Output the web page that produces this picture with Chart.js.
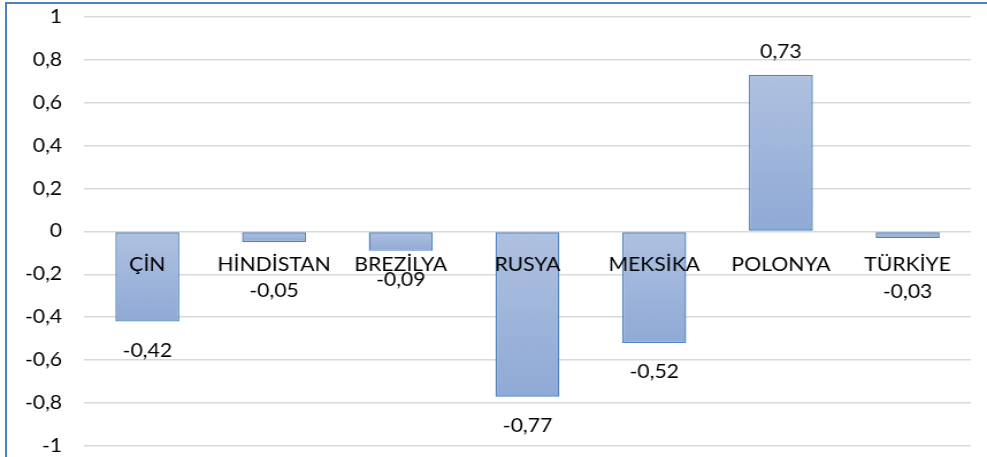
<!DOCTYPE html>
<html>
<head>
<meta charset="utf-8">
<script src="https://cdn.jsdelivr.net/npm/chart.js@4"></script>
<style>
  html, body { margin: 0; padding: 0; background: #fff; }
  #wrap { position: relative; width: 987px; height: 457px; overflow: hidden; }
  #stretch {
    position: absolute; left: 0; top: 0; width: 858px; height: 457px;
    transform: scaleX(1.1503); transform-origin: 0 0;
  }
  #frame {
    position: absolute; left: 5px; top: 2px; right: -10px; bottom: -10px;
    border-top: 2px solid #4f81bd; border-left: 2px solid #4f81bd;
    pointer-events: none;
  }
</style>
</head>
<body>
<div id="wrap">
  <div id="stretch">
    <canvas id="chart" width="858" height="457" style="width:858px;height:457px"></canvas>
  </div>
  <div id="frame"></div>
</div>
<script>
// ── Data ─────────────────────────────────────────────────────────
const COUNTRIES = ['ÇİN', 'HİNDİSTAN', 'BREZİLYA', 'RUSYA', 'MEKSİKA', 'POLONYA', 'TÜRKİYE'];
const VALUES = [-0.42, -0.05, -0.09, -0.77, -0.52, 0.73, -0.03];
const Y_MIN = -1;
const Y_MAX = 1;
const Y_STEP = 0.2;

// extra push for value labels that sit under the category names
const LABEL_NUDGE = [0, 20, 0, 0, 0, 0, 25];

const FONT = "Lato, 'Open Sans', sans-serif";
const FONT_SIZE = 18.4;

function trNum(v, decimals) {
  return v.toFixed(decimals).replace('.', ',');
}

// ── Category + value labels ──────────────────────────────────────
const barLabels = {
  id: 'barLabels',
  afterDatasetsDraw(chart) {
    const { ctx, scales } = chart;
    const meta = chart.getDatasetMeta(0);
    const zero = scales.y.getPixelForValue(0);

    ctx.save();
    ctx.font = FONT_SIZE + 'px ' + FONT;
    ctx.fillStyle = '#000';
    ctx.textAlign = 'center';
    ctx.textBaseline = 'alphabetic';

    COUNTRIES.forEach((name, i) => {
      ctx.fillText(name, scales.x.getPixelForValue(i), zero + 39);
    });

    meta.data.forEach((bar, i) => {
      const v = VALUES[i];
      const y = v >= 0 ? bar.y - 16.5 : bar.y + 35 + LABEL_NUDGE[i];
      ctx.fillText(trNum(v, 2), bar.x, y);
    });
    ctx.restore();
  }
};

// ── Chart ────────────────────────────────────────────────────────
function barGradient(context) {
  const { ctx, chartArea, scales } = context.chart;
  if (!chartArea || !scales.y || context.dataIndex === undefined) return '#9db3da';
  const y0 = scales.y.getPixelForValue(0);
  const y1 = scales.y.getPixelForValue(VALUES[context.dataIndex]);
  const top = Math.min(y0, y1);
  const bottom = Math.max(y0, y1);
  const g = ctx.createLinearGradient(0, top, 0, bottom === top ? top + 1 : bottom);
  g.addColorStop(0, '#afc1e0');
  g.addColorStop(1, '#8faad6');
  return g;
}

new Chart(document.getElementById('chart'), {
  type: 'bar',
  data: {
    labels: COUNTRIES,
    datasets: [{
      data: VALUES,
      backgroundColor: barGradient,
      borderColor: '#4f81bd',
      borderWidth: 1.4,
      borderSkipped: false,
      barPercentage: 0.505,
      categoryPercentage: 1
    }]
  },
  options: {
    responsive: false,
    animation: false,
    layout: { padding: { left: 0, right: 13.9, top: 17, bottom: 11 } },
    plugins: {
      legend: { display: false },
      tooltip: { enabled: false }
    },
    scales: {
      x: {
        display: false
      },
      y: {
        min: Y_MIN,
        max: Y_MAX,
        afterFit(scale) {
          scale.width = 73;
          scale.paddingTop = 0;
          scale.paddingBottom = 0;
        },
        border: { display: false },
        grid: { color: '#d9d9d9', lineWidth: 1.6, drawTicks: false },
        ticks: {
          stepSize: Y_STEP,
          color: '#000',
          padding: 19,
          font: { family: FONT, size: FONT_SIZE },
          callback: v => {
            const r = Math.round(v * 10) / 10;
            return Number.isInteger(r) ? String(r) : trNum(r, 1);
          }
        }
      }
    }
  },
  plugins: [barLabels]
});
</script>
</body>
</html>
